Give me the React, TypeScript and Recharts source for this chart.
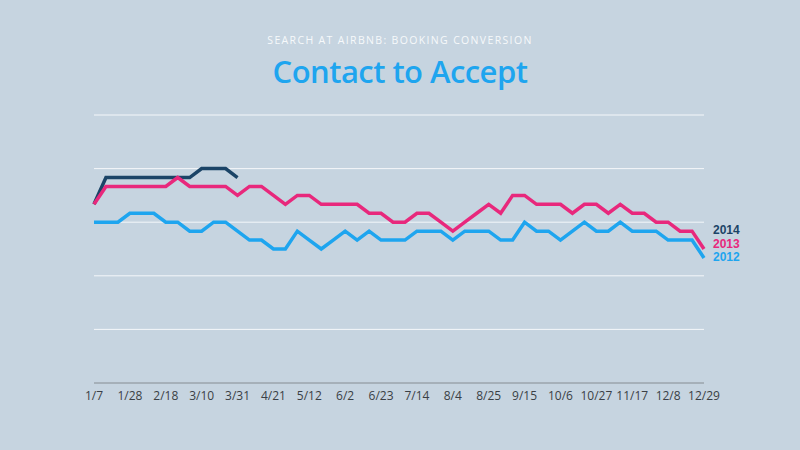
import React from "react";
import { LineChart, Line, XAxis, YAxis, CartesianGrid } from "recharts";

const START = Date.UTC(2012, 0, 7);
const weeks: string[] = Array.from({ length: 52 }, (_, i) => {
  const d = new Date(START + i * 7 * 86400000);
  return `${d.getUTCMonth() + 1}/${d.getUTCDate()}`;
});

const tickLabels = ["1/7", "1/28", "2/18", "3/10", "3/31", "4/21", "5/12", "6/2", "6/23", "7/14", "8/4", "8/25", "9/15", "10/6", "10/27", "11/17", "12/8", "12/29"];

const series2012 = [18, 18, 18, 19, 19, 19, 18, 18, 17, 17, 18, 18, 17, 16, 16, 15, 15, 17, 16, 15, 16, 17, 16, 17, 16, 16, 16, 17, 17, 17, 16, 17, 17, 17, 16, 16, 18, 17, 17, 16, 17, 18, 17, 17, 18, 17, 17, 17, 16, 16, 16, 14];
const series2013 = [20, 22, 22, 22, 22, 22, 22, 23, 22, 22, 22, 22, 21, 22, 22, 21, 20, 21, 21, 20, 20, 20, 20, 19, 19, 18, 18, 19, 19, 18, 17, 18, 19, 20, 19, 21, 21, 20, 20, 20, 19, 20, 20, 19, 20, 19, 19, 18, 18, 17, 17, 15];
const series2014 = [20, 23, 23, 23, 23, 23, 23, 23, 23, 24, 24, 24, 23];

const yTicks = [0, 6, 12, 18, 24, 30];

const COLORS = { y2012: "#1ea5ef", y2013: "#e8287c", y2014: "#1b4467" };

const data = weeks.map((w, i) => ({
  week: w,
  y2012: series2012[i],
  y2013: series2013[i],
  y2014: i < series2014.length ? series2014[i] : null,
}));

const legendItems = [
  { label: "2014", color: COLORS.y2014 },
  { label: "2013", color: COLORS.y2013 },
  { label: "2012", color: COLORS.y2012 },
];

export default function App() {
  return (
    <div style={{ position: "fixed", left: 0, top: 0, width: 800, height: 450, background: "#c6d4e0", overflow: "hidden" }}>
      <div style={{ position: "absolute", top: 33, left: 0, width: 800, textAlign: "center", fontFamily: "'Open Sans', sans-serif", fontSize: 10.5, letterSpacing: 1.35, color: "#f6f9fb", lineHeight: "14px" }}>
        SEARCH AT AIRBNB: BOOKING CONVERSION
      </div>
      <div style={{ position: "absolute", top: 50, left: 0, width: 800, textAlign: "center", fontFamily: "'Open Sans', sans-serif", fontWeight: 600, fontSize: 31, letterSpacing: -0.55, color: "#1ea5ef", lineHeight: "42px" }}>
        Contact to Accept
      </div>
      <div style={{ position: "absolute", left: 0, top: 0 }}>
        <LineChart width={800} height={450} data={data} margin={{ top: 115, right: 96, bottom: 37, left: 94 }}>
          <CartesianGrid horizontal={true} vertical={false} stroke="#f4f7fa" strokeWidth={1} />
          <XAxis
            dataKey="week"
            ticks={tickLabels}
            interval={0}
            height={30}
            tickLine={false}
            axisLine={{ stroke: "#6f7a85", strokeWidth: 1 }}
            tick={{ fill: "#3a3f45", fontSize: 12, fontFamily: "'Open Sans', sans-serif" }}
          />
          <YAxis hide domain={[0, 30]} ticks={yTicks} width={0} />
          <Line dataKey="y2012" stroke={COLORS.y2012} strokeWidth={3.5} dot={false} type="linear" isAnimationActive={false} />
          <Line dataKey="y2014" stroke={COLORS.y2014} strokeWidth={3.5} dot={false} type="linear" isAnimationActive={false} />
          <Line dataKey="y2013" stroke={COLORS.y2013} strokeWidth={3.5} dot={false} type="linear" isAnimationActive={false} />
        </LineChart>
      </div>
      <div style={{ position: "absolute", left: 713, top: 224, fontFamily: "'Liberation Sans', Arial, sans-serif", fontWeight: 700, fontSize: 12, lineHeight: "13.5px" }}>
        {legendItems.map((it) => (
          <div key={it.label} style={{ color: it.color }}>{it.label}</div>
        ))}
      </div>
    </div>
  );
}
